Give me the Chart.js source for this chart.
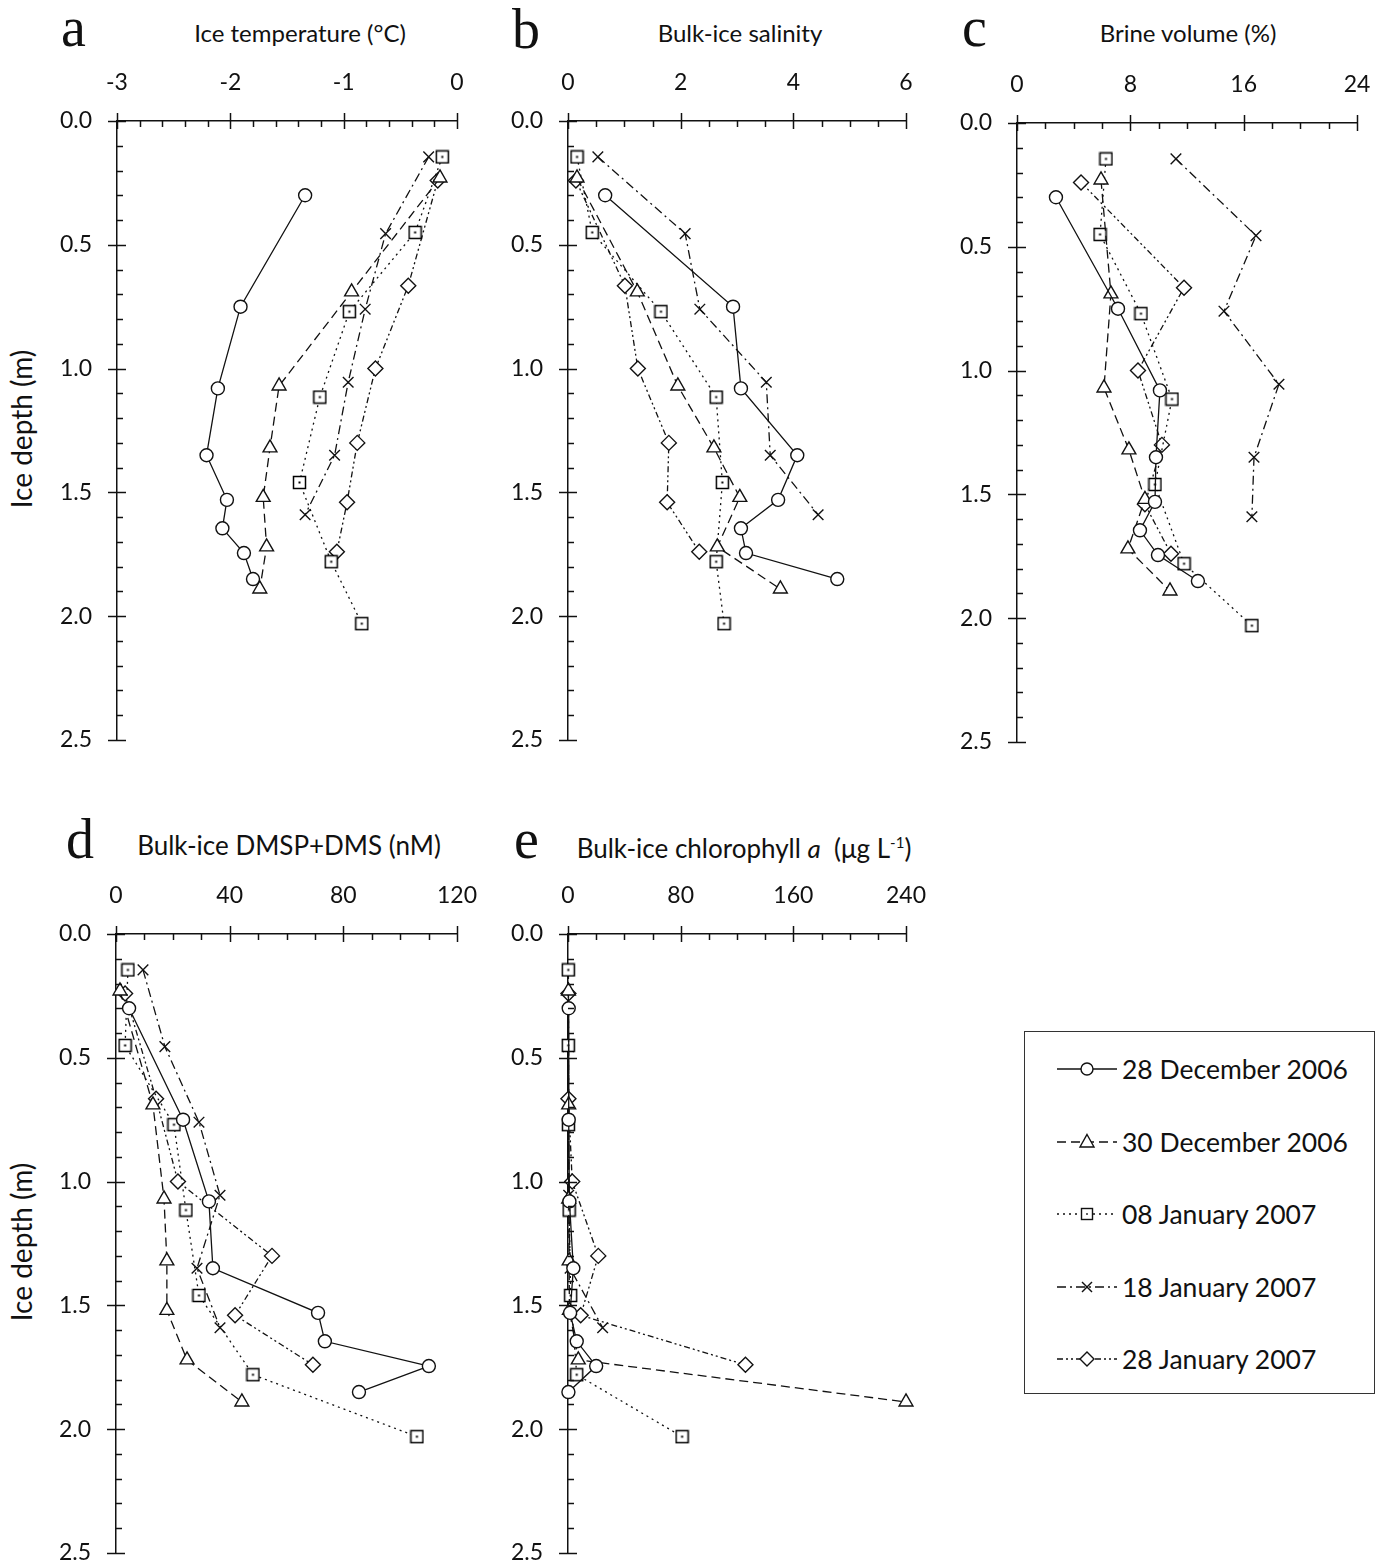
<!DOCTYPE html>
<html><head><meta charset="utf-8">
<script src="https://cdn.jsdelivr.net/npm/chart.js@4.4.1/dist/chart.umd.min.js"></script>
<style>
html,body{margin:0;padding:0;background:#fff;width:1388px;height:1568px;overflow:hidden;}
body{position:relative;font-family:Lato,"Open Sans",sans-serif;color:#111;}
.abs{position:absolute;white-space:nowrap;}
.c{transform:translate(-50%,-50%);}
.letter{font-family:"Liberation Serif","DejaVu Serif",serif;font-size:56px;line-height:56px;}
.title{font-size:24px;line-height:30px;}
.title2{font-size:26px;line-height:30px;}
.ytitle{font-size:28px;line-height:30px;transform:translate(-50%,-50%) rotate(-90deg);}
canvas{position:absolute;}
#legend{position:absolute;left:1024px;top:1031px;width:351px;height:363px;border:1.5px solid #333;box-sizing:border-box;}
.lrow{position:absolute;left:0;width:349px;height:40px;}
.lrow svg{position:absolute;left:32px;top:8px;}
.lrow span{position:absolute;left:97px;top:2px;font-size:26.5px;line-height:36px;}
</style></head><body>

<div class="abs letter" style="left:61px;top:-1px;">a</div>
<div class="abs letter" style="left:512px;top:1px;">b</div>
<div class="abs letter" style="left:962px;top:-1px;">c</div>
<div class="abs letter" style="left:66px;top:811px;">d</div>
<div class="abs letter" style="left:514px;top:811px;">e</div>

<div class="abs title c" style="left:300px;top:33px;">Ice temperature (°C)</div>
<div class="abs title c" style="left:740px;top:33px;">Bulk-ice salinity</div>
<div class="abs title c" style="left:1188px;top:33px;">Brine volume (%)</div>
<div class="abs title2 c" style="left:289px;top:845px;">Bulk-ice DMSP+DMS (nM)</div>
<div class="abs title2 c" style="left:744px;top:845px;">Bulk-ice chlorophyll <i>a</i>&nbsp; (μg L<sup style="font-size:15px">-1</sup>)</div>

<div class="abs ytitle" style="left:21px;top:429px;">Ice depth (m)</div>
<div class="abs ytitle" style="left:21px;top:1242px;">Ice depth (m)</div>

<div id="legend"></div>

<script>
// ---------- DATA ----------
const seriesLabels = ['28 December 2006','30 December 2006','08 January 2007','18 January 2007','28 January 2007'];

// sampling depths (m) for each date
const depthDec28 = [0.30,0.75,1.08,1.35,1.53,1.645,1.745,1.85];
const depthDec30 = [0.23,0.69,1.07,1.32,1.52,1.72,1.89];
const depthJan08 = [0.145,0.45,0.77,1.115,1.46,1.78,2.03];
const depthJan18 = [0.145,0.455,0.76,1.055,1.35,1.59];
const depthJan28 = [0.24,0.665,1.00,1.30,1.54,1.74];

// a: ice temperature (°C)
const tempDec28 = [-1.34,-1.91,-2.11,-2.21,-2.03,-2.07,-1.88,-1.80];
const tempDec30 = [-0.15,-0.93,-1.57,-1.65,-1.71,-1.68,-1.74];
const tempJan08 = [-0.13,-0.37,-0.95,-1.21,-1.39,-1.11,-0.84];
const tempJan18 = [-0.25,-0.63,-0.81,-0.96,-1.08,-1.34];
const tempJan28 = [-0.17,-0.43,-0.72,-0.88,-0.97,-1.06];

// b: bulk-ice salinity
const salDec28 = [0.66,2.93,3.07,4.07,3.73,3.07,3.16,4.78];
const salDec30 = [0.16,1.23,1.95,2.59,3.05,2.65,3.77];
const salJan08 = [0.16,0.43,1.65,2.63,2.74,2.63,2.77];
const salJan18 = [0.53,2.08,2.34,3.52,3.59,4.44];
const salJan28 = [0.14,1.01,1.24,1.79,1.76,2.33];

// c: brine volume (%)
const brineDec28 = [2.75,7.13,10.09,9.81,9.74,8.68,9.95,12.77];
const brineDec30 = [5.93,6.63,6.14,7.90,9.03,7.83,10.80];
const brineJan08 = [6.28,5.86,8.75,10.94,9.74,11.79,16.58];
const brineJan18 = [11.22,16.87,14.61,18.49,16.73,16.58];
const brineJan28 = [4.52,11.79,8.54,10.23,9.03,10.87];

// d: bulk-ice DMSP+DMS (nM)
const dmspDec28 = [4.6,23.6,32.7,34.1,71.1,73.5,110.1,85.5];
const dmspDec30 = [1.4,13.0,16.9,17.9,17.9,25.0,44.3];
const dmspJan08 = [4.2,3.2,20.4,24.6,29.2,48.2,105.9];
const dmspJan18 = [9.5,17.2,29.2,36.6,28.5,36.6];
const dmspJan28 = [3.2,14.1,21.8,54.9,41.9,69.3];

// e: bulk-ice chlorophyll a (µg/L)
const chlDec28 = [0.5,0.5,1.0,3.8,1.5,6.2,20.0,0.3];
const chlDec30 = [0.3,0.5,0.5,0.8,1.0,7.3,240];
const chlJan08 = [0.2,0.2,0.3,0.8,1.9,6.2,81];
const chlJan18 = [0.3,0.3,0.5,0.5,1.5,24.6];
const chlJan28 = [0.3,0.3,3.0,21.5,9.0,126];

const depths = [depthDec28,depthDec30,depthJan08,depthJan18,depthJan28];

// ---------- STYLES ----------
function makeSquare(){
  const c=document.createElement('canvas'); c.width=15; c.height=15;
  const g=c.getContext('2d');
  g.fillStyle='#fff'; g.fillRect(1.5,1.5,12,12);
  g.strokeStyle='#000'; g.lineWidth=1.5; g.strokeRect(1.5,1.5,12,12);
  g.fillStyle='#000'; g.fillRect(6.5,6.5,2,2);
  return c;
}
const squareImg = makeSquare();
const styles = [
  {ps:'circle', r:6.5, dash:[]},
  {ps:'triangle', r:8, dash:[9,5]},
  {ps:squareImg, r:6, dash:[2,4]},
  {ps:'crossRot', r:7.5, dash:[9,4,2,4]},
  {ps:'rectRot', r:7.5, dash:[6,3,2,3,2,3]}
];

const panels = [
  {L:117,R:457,T:121,B:740,min:-3,max:0,minor:0.2,major:1,series:[tempDec28,tempDec30,tempJan08,tempJan18,tempJan28]},
  {L:568,R:906,T:121,B:740,min:0,max:6,minor:0.5,major:2,series:[salDec28,salDec30,salJan08,salJan18,salJan28]},
  {L:1017,R:1357,T:123,B:742,min:0,max:24,minor:2,major:8,series:[brineDec28,brineDec30,brineJan08,brineJan18,brineJan28]},
  {L:116,R:457,T:934,B:1553,min:0,max:120,minor:10,major:40,series:[dmspDec28,dmspDec30,dmspJan08,dmspJan18,dmspJan28]},
  {L:568,R:906,T:934,B:1553,min:0,max:240,minor:20,major:80,series:[chlDec28,chlDec30,chlJan08,chlJan18,chlJan28]}
];

const isMaj=(v,m)=>Math.abs(v/m-Math.round(v/m))<1e-6;

const tickPlugin = {
  id:'tickMarks',
  afterDraw(chart,args,opts){
    const ctx=chart.ctx, ca=chart.chartArea, xs=chart.scales.x, ys=chart.scales.y;
    ctx.save(); ctx.strokeStyle='#111'; ctx.lineWidth=1.5; ctx.setLineDash([]);
    xs.ticks.forEach(t=>{
      const p=Math.round(xs.getPixelForValue(t.value))+0.5, mj=isMaj(t.value,opts.xMajor);
      ctx.beginPath(); ctx.moveTo(p, mj?ca.top-8:ca.top); ctx.lineTo(p, ca.top+(mj?8:6)); ctx.stroke();
    });
    ys.ticks.forEach(t=>{
      const p=Math.round(ys.getPixelForValue(t.value))+0.5, mj=isMaj(t.value,opts.yMajor);
      ctx.beginPath(); ctx.moveTo(mj?ca.left-9:ca.left, p); ctx.lineTo(ca.left+(mj?9:6), p); ctx.stroke();
    });
    ctx.restore();
  }
};

const YW=80, XH=70, PR=70, PB=60;
panels.forEach(P=>{
  const cv=document.createElement('canvas');
  const W=(P.R-P.L)+YW+PR, H=(P.B-P.T)+XH+PB;
  cv.width=W; cv.height=H;
  cv.style.left=(P.L-YW)+'px'; cv.style.top=(P.T-XH)+'px';
  cv.style.width=W+'px'; cv.style.height=H+'px';
  document.body.appendChild(cv);
  const datasets=P.series.map((xs,s)=>({
    label:seriesLabels[s],
    data:xs.map((v,i)=>({x:v,y:depths[s][i]})),
    showLine:true, borderColor:'#111', borderWidth:1.3, borderDash:styles[s].dash,
    pointStyle:styles[s].ps, pointRadius:styles[s].r, pointBorderWidth:1.4,
    pointBackgroundColor:'#fff', pointBorderColor:'#111', backgroundColor:'#fff',
    tension:0, clip:false
  }));
  new Chart(cv,{
    type:'scatter',
    data:{datasets},
    plugins:[tickPlugin],
    options:{
      responsive:false, animation:false, devicePixelRatio:1,
      layout:{autoPadding:false,padding:{left:0,top:0,right:PR,bottom:PB}},
      plugins:{legend:{display:false},tooltip:{enabled:false},tickMarks:{xMajor:P.major,yMajor:0.5}},
      scales:{
        x:{type:'linear',position:'top',min:P.min,max:P.max,
          ticks:{stepSize:P.minor,autoSkip:false,maxRotation:0,padding:25,color:'#111',
            font:{family:'Lato',size:23},
            callback:v=>isMaj(v,P.major)?String(Math.round(v)):''},
          grid:{display:true,drawOnChartArea:false,drawTicks:false},
          border:{display:true,color:'#111',width:1.5},
          afterFit:s=>{s.height=XH;}},
        y:{type:'linear',reverse:true,min:0,max:2.5,
          ticks:{stepSize:0.1,autoSkip:false,padding:25,color:'#111',
            font:{family:'Lato',size:23},
            callback:v=>isMaj(v,0.5)?Number(v).toFixed(1):''},
          grid:{display:true,drawOnChartArea:false,drawTicks:false},
          border:{display:true,color:'#111',width:1.5},
          afterFit:s=>{s.width=YW;}}
      }
    }
  });
});

// ---------- LEGEND ----------
const markerSvg=[
  '<circle cx="30" cy="12" r="6" fill="#fff" stroke="#111" stroke-width="1.4"/>',
  '<polygon points="30,4.5 37,17 23,17" fill="#fff" stroke="#111" stroke-width="1.4"/>',
  '<rect x="24.5" y="6.5" width="11" height="11" fill="#fff" stroke="#111" stroke-width="1.4"/><rect x="29.2" y="11.2" width="1.6" height="1.6" fill="#111"/>',
  '<line x1="25" y1="7" x2="35" y2="17" stroke="#111" stroke-width="1.4"/><line x1="35" y1="7" x2="25" y2="17" stroke="#111" stroke-width="1.4"/>',
  '<polygon points="30,5 37,12 30,19 23,12" fill="#fff" stroke="#111" stroke-width="1.4"/>'
];
const leg=document.getElementById('legend');
const rowY=[1068,1141,1213,1286,1358];
seriesLabels.forEach((lab,s)=>{
  const d=document.createElement('div'); d.className='lrow';
  d.style.top=(rowY[s]-1031-20)+'px';
  const dash=styles[s].dash.length?styles[s].dash.join(','):'none';
  d.innerHTML='<svg width="62" height="24" viewBox="0 0 62 24"><line x1="0" y1="12" x2="60" y2="12" stroke="#111" stroke-width="1.3" stroke-dasharray="'+dash+'"/>'+markerSvg[s]+'</svg><span>'+lab+'</span>';
  leg.appendChild(d);
});
</script>
</body></html>
